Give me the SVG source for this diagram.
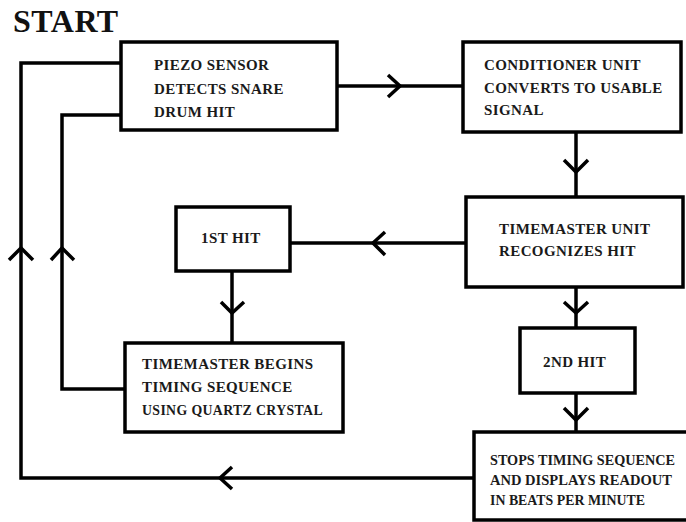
<svg xmlns="http://www.w3.org/2000/svg" width="686" height="522" viewBox="0 0 686 522">
<style>
.box{fill:#fff;stroke:#000;stroke-width:3.5}
.ln{fill:none;stroke:#000;stroke-width:3.5}
.hd{fill:none;stroke:#000;stroke-width:3.5;stroke-linecap:butt}
.t{font-family:"Liberation Serif","Times New Roman",serif;font-weight:bold;font-size:15px;letter-spacing:0.4px;fill:#1a1a1a}
.s{font-family:"Liberation Serif","Times New Roman",serif;font-weight:bold;font-size:14px;fill:#1a1a1a}
.title{font-family:"Liberation Serif","Times New Roman",serif;font-weight:bold;font-size:32px;letter-spacing:0.5px;fill:#111}
</style>
<rect width="686" height="522" fill="#fff"/>
<text class="title" x="13" y="32">START</text>
<g id="connectors">
<path class="ln" d="M337 86H463"/>
<path class="hd" d="M388 75L400 86L388 97"/>
<path class="ln" d="M576 132V197"/>
<path class="hd" d="M564 160L576 172L588 160"/>
<path class="ln" d="M466 243H290"/>
<path class="hd" d="M385 232L373 243L385 255"/>
<path class="ln" d="M232 271V343"/>
<path class="hd" d="M221 302L232 313L244 302"/>
<path class="ln" d="M576 287V328"/>
<path class="hd" d="M564 302L576 313L588 302"/>
<path class="ln" d="M576 393V432"/>
<path class="hd" d="M564 408L576 420L588 408"/>
<path class="ln" d="M125 389H62V115H121"/>
<path class="hd" d="M51 260L62 248L74 260"/>
<path class="ln" d="M474 478H21V63H121"/>
<path class="hd" d="M232 467L220 478L232 489"/>
<path class="hd" d="M9 260L21 248L33 260"/>
</g>
<g id="piezo">
<rect class="box" x="121" y="42" width="216" height="88"/>
<text class="t" x="154" y="70">PIEZO SENSOR</text>
<text class="t" x="154" y="94">DETECTS SNARE</text>
<text class="t" x="154" y="117">DRUM HIT</text>
</g>
<g id="conditioner">
<rect class="box" x="463" y="42" width="218" height="90"/>
<text class="t" x="484" y="70">CONDITIONER UNIT</text>
<text class="t" x="484" y="93">CONVERTS TO USABLE</text>
<text class="t" x="484" y="115">SIGNAL</text>
</g>
<g id="timemaster-unit">
<rect class="box" x="466" y="197" width="217" height="90"/>
<text class="t" x="499" y="234">TIMEMASTER UNIT</text>
<text class="t" x="499" y="256">RECOGNIZES HIT</text>
</g>
<g id="first-hit">
<rect class="box" x="176" y="207" width="114" height="64"/>
<text class="t" x="201" y="243">1ST HIT</text>
</g>
<g id="timemaster-begins">
<rect class="box" x="125" y="343" width="218" height="89"/>
<text class="t" x="142" y="369">TIMEMASTER BEGINS</text>
<text class="t" x="142" y="392">TIMING SEQUENCE</text>
<text class="t" x="142" y="415" textLength="181" lengthAdjust="spacingAndGlyphs">USING QUARTZ CRYSTAL</text>
</g>
<g id="second-hit">
<rect class="box" x="520" y="328" width="115" height="65"/>
<text class="t" x="543" y="367">2ND HIT</text>
</g>
<g id="stops">
<rect class="box" x="474" y="432" width="240" height="88"/>
<text class="s" x="490" y="465" textLength="185" lengthAdjust="spacingAndGlyphs">STOPS TIMING SEQUENCE</text>
<text class="s" x="490" y="485" textLength="182" lengthAdjust="spacingAndGlyphs">AND DISPLAYS READOUT</text>
<text class="s" x="490" y="505" textLength="155" lengthAdjust="spacingAndGlyphs">IN BEATS PER MINUTE</text>
</g>
</svg>
